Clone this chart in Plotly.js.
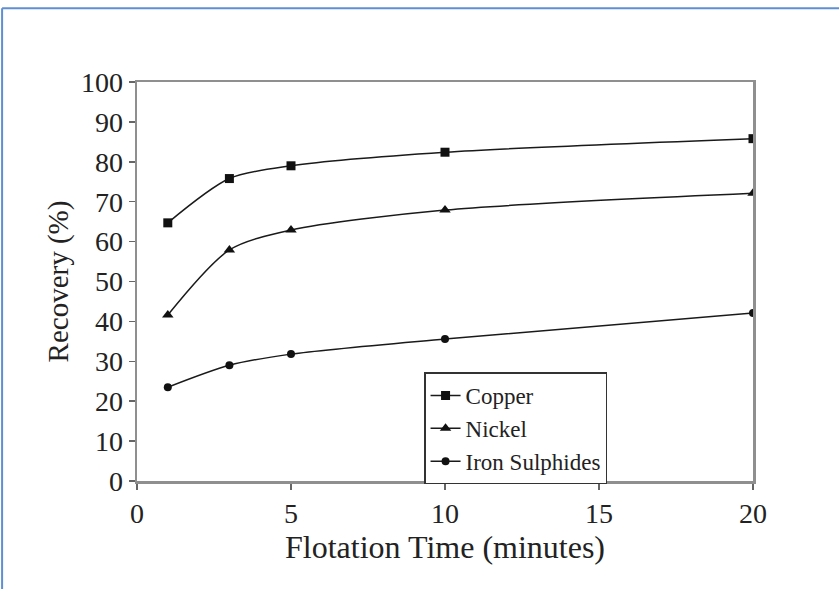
<!DOCTYPE html>
<html>
<head>
<meta charset="utf-8">
<script src="https://cdn.plot.ly/plotly-3.0.1.min.js"></script>
<style>
  html, body { margin: 0; padding: 0; background: #ffffff; }
  #chart { width: 839px; height: 589px; }
</style>
</head>
<body>
<div id="chart"></div>
<script>
// Flotation time (minutes) at which each sample was taken
const flotationTime = [1, 3, 5, 10, 20];

// Cumulative recovery (%) for each mineral
const copperRecovery = [64.7, 75.8, 79.0, 82.4, 85.8];
const nickelRecovery = [41.6, 57.9, 62.9, 67.9, 72.1];
const ironSulphideRecovery = [23.5, 29.0, 31.8, 35.6, 42.1];

const seriesNames = ['Copper', 'Nickel', 'Iron Sulphides'];

const xTicks = [0, 5, 10, 15, 20];
const yTicks = [0, 10, 20, 30, 40, 50, 60, 70, 80, 90, 100];

const serif = 'Liberation Serif, Times New Roman, serif';

function series(name, values, symbol, size) {
  return {
    x: flotationTime,
    y: values,
    name: name,
    type: 'scatter',
    mode: 'lines+markers',
    line: { color: '#1a1a1a', width: 1.5, shape: 'spline', smoothing: 0.8 },
    marker: { symbol: symbol, size: size, color: '#111111' }
  };
}

const traces = [
  series(seriesNames[0], copperRecovery, 'square', 9),
  series(seriesNames[1], nickelRecovery, 'triangle-up', 10),
  series(seriesNames[2], ironSulphideRecovery, 'circle', 8)
];

const axisCommon = {
  showgrid: false,
  zeroline: false,
  showline: true,
  linecolor: '#8f8f8f',
  linewidth: 2.5,
  mirror: true,
  ticks: 'outside',
  ticklen: 6,
  tickwidth: 1.5,
  tickcolor: '#666666',
  tickfont: { family: serif, size: 28, color: '#222222' }
};

const layout = {
  width: 839,
  height: 589,
  paper_bgcolor: '#ffffff',
  plot_bgcolor: '#ffffff',
  margin: { l: 137, r: 86, t: 82, b: 108 },
  showlegend: true,
  legend: {
    x: 0.466, y: 0.272, xanchor: 'left', yanchor: 'top',
    bgcolor: '#ffffff',
    bordercolor: '#333333',
    borderwidth: 1.5,
    itemwidth: 30,
    tracegroupgap: 0,
    font: { family: serif, size: 23, color: '#222222' }
  },
  xaxis: Object.assign({}, axisCommon, {
    range: [0, 20],
    tickvals: xTicks,
    ticktext: xTicks.map(String),
    title: { text: 'Flotation Time (minutes)', font: { family: serif, size: 32, color: '#222222' }, standoff: 8 }
  }),
  yaxis: Object.assign({}, axisCommon, {
    range: [0, 100],
    tickvals: yTicks,
    ticktext: yTicks.map(String),
    title: { text: 'Recovery (%)', font: { family: serif, size: 29, color: '#222222' }, standoff: 4 }
  }),
  shapes: [
    // page frame: top and left rules
    { type: 'line', xref: 'paper', yref: 'paper', x0: -0.219, x1: 1.2, y0: 1.185, y1: 1.185,
      line: { color: '#5f8fd3', width: 2 } },
    { type: 'line', xref: 'paper', yref: 'paper', x0: -0.219, x1: -0.219, y0: 1.185, y1: -0.3,
      line: { color: '#5f8fd3', width: 2 } }
  ]
};

Plotly.newPlot('chart', traces, layout, { displayModeBar: false, staticPlot: true });
</script>
</body>
</html>
